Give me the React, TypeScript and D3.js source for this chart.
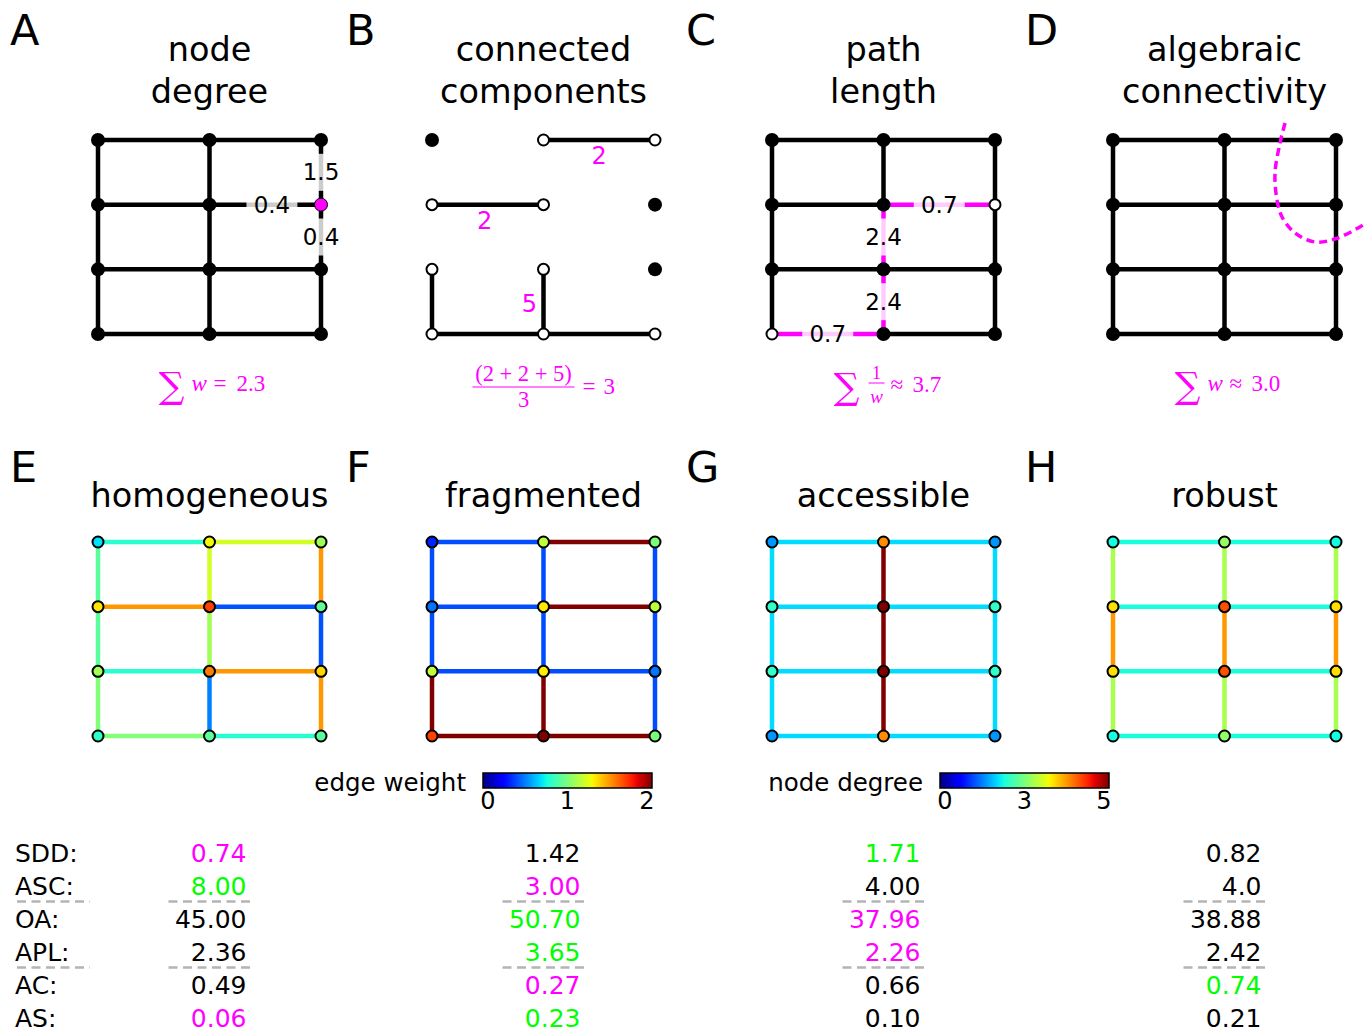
import React from 'react';
import * as d3 from 'd3';

const W = 1372;
const H = 1034;

// ---------- layout / text data ----------
const panelLetters = ['A', 'B', 'C', 'D', 'E', 'F', 'G', 'H'];
const topTitles = [['node', 'degree'], ['connected', 'components'], ['path', 'length'], ['algebraic', 'connectivity']];
const bottomTitles = ['homogeneous', 'fragmented', 'accessible', 'robust'];
const panelX0 = [98, 432, 772, 1113];
const GRID_W = 223;
const GRID_H = 194;
const TOP_Y0 = 140;
const BOT_Y0 = 542;

// ---------- panel A ----------
const aLabels = [
  { from: [1, 1], to: [2, 1], text: '0.4', pos: 0.56 },
  { from: [2, 0], to: [2, 1], text: '1.5', pos: 0.5 },
  { from: [2, 1], to: [2, 2], text: '0.4', pos: 0.5 },
];
const aFocusNode = [2, 1];

// ---------- panel B ----------
const bEdges = [
  [[1, 0], [2, 0]],
  [[0, 1], [1, 1]],
  [[0, 2], [0, 3]],
  [[1, 2], [1, 3]],
  [[0, 3], [1, 3]],
  [[1, 3], [2, 3]],
];
const bIsolated = [[0, 0], [2, 1], [2, 2]];
const bCompLabels = [
  { from: [1, 0], to: [2, 0], text: '2', dx: 0, dy: 16 },
  { from: [0, 1], to: [1, 1], text: '2', dx: -3, dy: 16 },
  { from: [1, 2], to: [1, 3], text: '5', dx: -14, dy: 2 },
];

// ---------- panel C ----------
const cPath = [
  { from: [0, 3], to: [1, 3], w: '0.7' },
  { from: [1, 3], to: [1, 2], w: '2.4' },
  { from: [1, 2], to: [1, 1], w: '2.4' },
  { from: [1, 1], to: [2, 1], w: '0.7' },
];
const cEnds = [[0, 3], [2, 1]];

// ---------- panel D (spectral cut, grid units) ----------
const dCut = [
  [1.543, -0.263], [1.498, 0.046], [1.453, 0.51], [1.471, 0.928], [1.516, 1.19],
  [1.632, 1.438], [1.812, 1.577], [2.018, 1.515], [2.242, 1.314],
];

// ---------- panels E-H: edge weights and node degrees ----------
// horizontal edges: [row][segment], vertical edges: [col][segment]
const hWeightsE = [[0.80, 1.21], [1.50, 0.41], [0.80, 1.50], [1.01, 0.80]];
const vWeightsE = [[0.92, 0.92, 1.01], [1.21, 1.09, 0.50], [1.50, 0.41, 1.50]];
const nodeDegE = [[1.72, 3.22, 2.71], [3.34, 4.21, 2.32], [2.73, 3.89, 3.41], [2.02, 2.31, 2.30]];

const hWeightsF = [[0.40, 2.10], [0.40, 2.10], [0.40, 0.40], [2.10, 2.10]];
const vWeightsF = [[0.40, 0.40, 2.10], [0.40, 0.40, 2.10], [0.40, 0.40, 0.40]];
const nodeDegF = [[0.80, 2.90, 2.50], [1.20, 3.30, 2.90], [2.90, 3.30, 1.20], [4.20, 6.30, 2.50]];

const hWeightsG = [[0.68, 0.68], [0.68, 0.68], [0.68, 0.68], [0.68, 0.68]];
const vWeightsG = [[0.68, 0.68, 0.68], [2.45, 2.45, 2.45], [0.68, 0.68, 0.68]];
const nodeDegG = [[1.36, 3.81, 1.36], [2.04, 6.26, 2.04], [2.04, 6.26, 2.04], [1.36, 3.81, 1.36]];

const hWeightsH = [[0.76, 0.76], [0.76, 0.76], [0.76, 0.76], [0.76, 0.76]];
const vWeightsH = [[1.11, 1.50, 1.11], [1.11, 1.50, 1.11], [1.11, 1.50, 1.11]];
const nodeDegH = [[1.87, 2.63, 1.87], [3.37, 4.13, 3.37], [3.37, 4.13, 3.37], [1.87, 2.63, 1.87]];

const bottomData = [
  { h: hWeightsE, v: vWeightsE, n: nodeDegE },
  { h: hWeightsF, v: vWeightsF, n: nodeDegF },
  { h: hWeightsG, v: vWeightsG, n: nodeDegG },
  { h: hWeightsH, v: vWeightsH, n: nodeDegH },
];

// ---------- colorbars ----------
const edgeTicks = [0, 1, 2];
const edgeTickLabels = ['0', '1', '2'];
const degTicks = [0, 2.5, 5];
const degTickLabels = ['0', '3', '5'];

// ---------- metrics table ----------
const metricNames = ['SDD:', 'ASC:', 'OA:', 'APL:', 'AC:', 'AS:'];
const metricValues = [
  ['0.74', '1.42', '1.71', '0.82'],
  ['8.00', '3.00', '4.00', '4.0'],
  ['45.00', '50.70', '37.96', '38.88'],
  ['2.36', '3.65', '2.26', '2.42'],
  ['0.49', '0.27', '0.66', '0.74'],
  ['0.06', '0.23', '0.10', '0.21'],
];
const metricColors = [
  ['m', 'k', 'g', 'k'],
  ['g', 'm', 'k', 'k'],
  ['k', 'g', 'm', 'k'],
  ['k', 'g', 'm', 'k'],
  ['k', 'm', 'k', 'g'],
  ['m', 'g', 'k', 'k'],
];
const separatorAfter = [1, 3];

// ---------- style ----------
const SANS = 'DejaVu Sans, sans-serif';
const SERIF = 'Liberation Serif, DejaVu Serif, serif';
const MAG = '#ff00ff';
const GREEN = '#00ff00';
const colorMap = { m: MAG, g: GREEN, k: '#000000' };

// jet colormap built from d3 scales
const jetR = d3.scaleLinear().domain([0, 0.35, 0.66, 0.89, 1]).range([0, 0, 1, 1, 0.5]).clamp(true);
const jetG = d3.scaleLinear().domain([0, 0.125, 0.375, 0.64, 0.91, 1]).range([0, 0, 1, 1, 0, 0]).clamp(true);
const jetB = d3.scaleLinear().domain([0, 0.11, 0.34, 0.65, 1]).range([0.5, 1, 1, 0, 0]).clamp(true);
const jet = (t: number) => d3.rgb(255 * jetR(t), 255 * jetG(t), 255 * jetB(t)).formatHex();
const edgeNorm = d3.scaleLinear().domain([0, 2]).range([0, 1]).clamp(true);
const degNorm = d3.scaleLinear().domain([0, 5]).range([0, 1]).clamp(true);

function gridScales(i: number, y0: number) {
  const x = d3.scaleLinear().domain([0, 2]).range([panelX0[i], panelX0[i] + GRID_W]);
  const y = d3.scaleLinear().domain([0, 3]).range([y0, y0 + GRID_H]);
  return { x, y };
}

function allEdges() {
  const e: number[][][] = [];
  for (let r = 0; r < 4; r++) for (let c = 0; c < 2; c++) e.push([[c, r], [c + 1, r]]);
  for (let c = 0; c < 3; c++) for (let r = 0; r < 3; r++) e.push([[c, r], [c, r + 1]]);
  return e;
}
function allNodes() {
  const n: number[][] = [];
  for (let r = 0; r < 4; r++) for (let c = 0; c < 3; c++) n.push([c, r]);
  return n;
}
const same = (a: number[], b: number[]) => a[0] === b[0] && a[1] === b[1];
const sameEdge = (e: number[][], f: number[][]) =>
  (same(e[0], f[0]) && same(e[1], f[1])) || (same(e[0], f[1]) && same(e[1], f[0]));

const EW = 4.5;

function EdgeLabel({ x, y, text, fs = 23 }: { x: number; y: number; text: string; fs?: number }) {
  const w = text.length * 0.55 * fs + 13;
  const h = 37;
  return (
    <g>
      <rect x={x - w / 2} y={y - h / 2} width={w} height={h} fill="#ffffff" fillOpacity={0.8} />
      <text x={x} y={y} textAnchor="middle" dominantBaseline="central" fontSize={fs} fontFamily={SANS} fill="#000">
        {text}
      </text>
    </g>
  );
}

function PanelA() {
  const { x, y } = gridScales(0, TOP_Y0);
  return (
    <g>
      {allEdges().map((e, k) => (
        <line key={k} x1={x(e[0][0])} y1={y(e[0][1])} x2={x(e[1][0])} y2={y(e[1][1])} stroke="#000" strokeWidth={EW} />
      ))}
      {allNodes().map((n, k) =>
        same(n, aFocusNode) ? (
          <circle key={k} cx={x(n[0])} cy={y(n[1])} r={6.5} fill={MAG} stroke="#000" strokeWidth={1} />
        ) : (
          <circle key={k} cx={x(n[0])} cy={y(n[1])} r={7} fill="#000" />
        )
      )}
      {aLabels.map((l, k) => (
        <EdgeLabel
          key={k}
          x={x(l.from[0] + (l.to[0] - l.from[0]) * l.pos)}
          y={y(l.from[1] + (l.to[1] - l.from[1]) * l.pos)}
          text={l.text}
        />
      ))}
    </g>
  );
}

function PanelB() {
  const { x, y } = gridScales(1, TOP_Y0);
  return (
    <g>
      {bEdges.map((e, k) => (
        <line key={k} x1={x(e[0][0])} y1={y(e[0][1])} x2={x(e[1][0])} y2={y(e[1][1])} stroke="#000" strokeWidth={EW} />
      ))}
      {allNodes().map((n, k) =>
        bIsolated.some((b) => same(b, n)) ? (
          <circle key={k} cx={x(n[0])} cy={y(n[1])} r={7} fill="#000" />
        ) : (
          <circle key={k} cx={x(n[0])} cy={y(n[1])} r={5.5} fill="#fff" stroke="#000" strokeWidth={2} />
        )
      )}
      {bCompLabels.map((l, k) => (
        <text
          key={k}
          x={x((l.from[0] + l.to[0]) / 2) + l.dx}
          y={y((l.from[1] + l.to[1]) / 2) + l.dy}
          textAnchor="middle"
          dominantBaseline="central"
          fontSize={24}
          fontFamily={SANS}
          fill={MAG}
        >
          {l.text}
        </text>
      ))}
    </g>
  );
}

function PanelC() {
  const { x, y } = gridScales(2, TOP_Y0);
  const pathEdges = cPath.map((p) => [p.from, p.to]);
  return (
    <g>
      {allEdges()
        .filter((e) => !pathEdges.some((p) => sameEdge(p, e)))
        .map((e, k) => (
          <line key={k} x1={x(e[0][0])} y1={y(e[0][1])} x2={x(e[1][0])} y2={y(e[1][1])} stroke="#000" strokeWidth={EW} />
        ))}
      {cPath.map((p, k) => (
        <line key={'p' + k} x1={x(p.from[0])} y1={y(p.from[1])} x2={x(p.to[0])} y2={y(p.to[1])} stroke={MAG} strokeWidth={EW} />
      ))}
      {allNodes().map((n, k) =>
        cEnds.some((b) => same(b, n)) ? (
          <circle key={k} cx={x(n[0])} cy={y(n[1])} r={5.5} fill="#fff" stroke="#000" strokeWidth={2} />
        ) : (
          <circle key={k} cx={x(n[0])} cy={y(n[1])} r={7} fill="#000" />
        )
      )}
      {cPath.map((p, k) => (
        <EdgeLabel key={'l' + k} x={x((p.from[0] + p.to[0]) / 2)} y={y((p.from[1] + p.to[1]) / 2)} text={p.w} />
      ))}
    </g>
  );
}

function PanelD() {
  const { x, y } = gridScales(3, TOP_Y0);
  const line = d3
    .line<number[]>()
    .x((d) => x(d[0]))
    .y((d) => y(d[1]))
    .curve(d3.curveCatmullRom);
  return (
    <g>
      {allEdges().map((e, k) => (
        <line key={k} x1={x(e[0][0])} y1={y(e[0][1])} x2={x(e[1][0])} y2={y(e[1][1])} stroke="#000" strokeWidth={EW} />
      ))}
      {allNodes().map((n, k) => (
        <circle key={k} cx={x(n[0])} cy={y(n[1])} r={7} fill="#000" />
      ))}
      <path d={line(dCut) || ''} fill="none" stroke={MAG} strokeWidth={3.5} strokeDasharray="8,5" />
    </g>
  );
}

function BottomPanel({ i }: { i: number }) {
  const { x, y } = gridScales(i, BOT_Y0);
  const d = bottomData[i];
  const hs: any[] = [];
  d.h.forEach((row, r) => row.forEach((w, c) => hs.push({ a: [c, r], b: [c + 1, r], w })));
  d.v.forEach((col, c) => col.forEach((w, r) => hs.push({ a: [c, r], b: [c, r + 1], w })));
  return (
    <g>
      {hs.map((e, k) => (
        <line
          key={k}
          x1={x(e.a[0])}
          y1={y(e.a[1])}
          x2={x(e.b[0])}
          y2={y(e.b[1])}
          stroke={jet(edgeNorm(e.w))}
          strokeWidth={EW}
        />
      ))}
      {d.n.map((row, r) =>
        row.map((v, c) => (
          <circle key={r + '-' + c} cx={x(c)} cy={y(r)} r={5.5} fill={jet(degNorm(v))} stroke="#000" strokeWidth={2} />
        ))
      )}
    </g>
  );
}

function Colorbar({ id, x0, label, ticks, labels, domain }: any) {
  const w = 169;
  const yTop = 773;
  const h = 15;
  const stops = d3.range(0, 1.0001, 0.02);
  const tx = d3.scaleLinear().domain(domain).range([x0 + 5, x0 + w - 5]);
  return (
    <g>
      <defs>
        <linearGradient id={id} x1="0" x2="1" y1="0" y2="0">
          {stops.map((s, k) => (
            <stop key={k} offset={s} stopColor={jet(s)} />
          ))}
        </linearGradient>
      </defs>
      <text x={x0 - 17} y={yTop + 18} textAnchor="end" fontSize={24.5} fontFamily={SANS} fill="#000">
        {label}
      </text>
      <rect x={x0} y={yTop} width={w} height={h} fill={`url(#${id})`} stroke="#000" strokeWidth={1.5} />
      {ticks.map((t: number, k: number) => (
        <text key={k} x={tx(t)} y={yTop + 36} textAnchor="middle" fontSize={24} fontFamily={SANS} fill="#000">
          {labels[k]}
        </text>
      ))}
    </g>
  );
}

function Formulas() {
  const cx = panelX0.map((x0) => x0 + GRID_W / 2);
  const common = { fill: MAG };
  const sumProps = { textAnchor: 'middle' as const, fontSize: 36, fontFamily: 'DejaVu Serif, serif', ...common };
  const fs = 23;
  return (
    <g>
      {/* A */}
      <text x={cx[0] - 38} y={398} {...sumProps}>∑</text>
      <text x={cx[0] - 18} y={391} fontSize={fs} fontStyle="italic" fontFamily={SERIF} {...common}>w</text>
      <text x={cx[0] + 4} y={391} fontSize={fs} fontFamily={SERIF} {...common}>=</text>
      <text x={cx[0] + 27} y={391} fontSize={fs} fontFamily={SERIF} {...common}>2.3</text>
      {/* B */}
      <text x={cx[1] - 20} y={381} textAnchor="middle" fontSize={22.5} fontFamily={SERIF} {...common}>(2 + 2 + 5)</text>
      <line x1={cx[1] - 71} x2={cx[1] + 31} y1={387} y2={387} stroke={MAG} strokeWidth={1} />
      <text x={cx[1] - 20} y={407} textAnchor="middle" fontSize={22.5} fontFamily={SERIF} {...common}>3</text>
      <text x={cx[1] + 39} y={394} fontSize={fs} fontFamily={SERIF} {...common}>=</text>
      <text x={cx[1] + 60} y={394} fontSize={fs} fontFamily={SERIF} {...common}>3</text>
      {/* C */}
      <text x={cx[2] - 37} y={399} {...sumProps}>∑</text>
      <text x={cx[2] - 7} y={379} textAnchor="middle" fontSize={18} fontFamily={SERIF} {...common}>1</text>
      <line x1={cx[2] - 15} x2={cx[2] + 1} y1={383} y2={383} stroke={MAG} strokeWidth={1} />
      <text x={cx[2] - 7} y={403} textAnchor="middle" fontSize={19} fontStyle="italic" fontFamily={SERIF} {...common}>w</text>
      <text x={cx[2] + 7} y={392} fontSize={fs} fontFamily={SERIF} {...common}>≈</text>
      <text x={cx[2] + 29} y={392} fontSize={fs} fontFamily={SERIF} {...common}>3.7</text>
      {/* D */}
      <text x={cx[3] - 37} y={398} {...sumProps}>∑</text>
      <text x={cx[3] - 17} y={391} fontSize={fs} fontStyle="italic" fontFamily={SERIF} {...common}>w</text>
      <text x={cx[3] + 5} y={391} fontSize={fs} fontFamily={SERIF} {...common}>≈</text>
      <text x={cx[3] + 27} y={391} fontSize={fs} fontFamily={SERIF} {...common}>3.0</text>
    </g>
  );
}

function Table() {
  const cx = panelX0.map((x0) => x0 + GRID_W / 2);
  const colRight = cx.map((c) => c + 37);
  const base = d3.scaleLinear().domain([0, 1]).range([862, 895]);
  return (
    <g fontFamily={SANS} fontSize={25}>
      {metricNames.map((m, r) => (
        <text key={'n' + r} x={15} y={base(r)} fill="#000">
          {m}
        </text>
      ))}
      {metricValues.map((row, r) =>
        row.map((v, c) => (
          <text key={r + '-' + c} x={colRight[c]} y={base(r)} textAnchor="end" fill={colorMap[metricColors[r][c]]}>
            {v}
          </text>
        ))
      )}
      {separatorAfter.map((r, k) => (
        <g key={'s' + k} stroke="#b4b4b4" strokeWidth={2.5} strokeDasharray="9,5.5">
          <line x1={17} x2={90} y1={base(r) + 6.5} y2={base(r) + 6.5} />
          {colRight.map((xr, c) => (
            <line key={c} x1={xr - 78} x2={xr + 7} y1={base(r) + 6.5} y2={base(r) + 6.5} />
          ))}
        </g>
      ))}
    </g>
  );
}

export default function App() {
  const letterX = [10, 346, 686, 1025];
  const cx = panelX0.map((x0) => x0 + GRID_W / 2);
  return (
    <svg
      width={W}
      height={H}
      viewBox={`0 0 ${W} ${H}`}
      style={{ position: 'absolute', left: 0, top: 0, background: '#fff' }}
    >
      <rect x={0} y={0} width={W} height={H} fill="#fff" />
      {/* panel letters */}
      {panelLetters.map((L, k) => (
        <text
          key={L}
          x={letterX[k % 4]}
          y={k < 4 ? 45 : 482}
          fontSize={43}
          fontFamily={SANS}
          fill="#000"
        >
          {L}
        </text>
      ))}
      {/* titles */}
      {topTitles.map((t, k) => (
        <g key={'t' + k}>
          {t.map((line, j) => (
            <text key={j} x={cx[k]} y={61 + j * 42} textAnchor="middle" fontSize={33.5} fontFamily={SANS} fill="#000">
              {line}
            </text>
          ))}
        </g>
      ))}
      {bottomTitles.map((t, k) => (
        <text key={'bt' + k} x={cx[k]} y={507} textAnchor="middle" fontSize={33.5} fontFamily={SANS} fill="#000">
          {t}
        </text>
      ))}
      <PanelA />
      <PanelB />
      <PanelC />
      <PanelD />
      <Formulas />
      {[0, 1, 2, 3].map((i) => (
        <BottomPanel key={i} i={i} />
      ))}
      <Colorbar id="cbEdge" x0={483} label="edge weight" ticks={edgeTicks} labels={edgeTickLabels} domain={[0, 2]} />
      <Colorbar id="cbDeg" x0={940} label="node degree" ticks={degTicks} labels={degTickLabels} domain={[0, 5]} />
      <Table />
    </svg>
  );
}
